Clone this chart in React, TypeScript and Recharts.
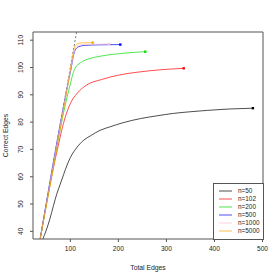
import React from 'react'
import { LineChart, Line, XAxis, YAxis, ReferenceLine, ReferenceArea } from 'recharts'

// total edges (x) vs correct edges (y), one pair of arrays per sample size
const n50X = [43, 50, 57, 65, 72, 79, 86, 93, 100, 114, 128, 142, 162, 183, 210, 246, 280, 315, 350, 385, 430, 480]
const n50Y = [37.3, 40.5, 44.3, 49.5, 53.8, 57.3, 60.8, 64.2, 67, 70.8, 73.4, 75, 77, 78.3, 79.8, 81.3, 82.3, 83.2, 83.8, 84.3, 84.8, 85.1]
const n102X = [37.5, 55, 65, 75, 82, 89.6, 100, 114, 133, 165, 200, 240, 290, 336]
const n102Y = [37.5, 54.5, 63.5, 71.5, 77, 81.9, 86.8, 90.5, 93.5, 95.6, 97.2, 98.3, 99.2, 99.7]
const n200X = [37.5, 60, 80, 93, 100, 105, 110, 121, 135, 150, 175, 210, 256]
const n200Y = [37.5, 59.5, 78.5, 89, 94, 97.5, 99.8, 101.7, 103, 103.7, 104.5, 105.2, 105.8]
const n500X = [37.5, 95, 102, 106, 110, 117, 130, 160, 204]
const n500Y = [37.5, 94, 100, 104, 106.3, 107.6, 108.1, 108.3, 108.4]
const n1000X = [37.5, 97, 104, 109, 115, 125, 150, 180]
const n1000Y = [37.5, 96, 102.5, 106.5, 108, 108.4, 108.5, 108.6]
const n5000X = [37.5, 98, 104, 108, 112, 121, 146.5]
const n5000Y = [37.5, 97, 103.5, 107, 108.4, 109, 109.1]

const labels = ['n=50', 'n=102', 'n=200', 'n=500', 'n=1000', 'n=5000']
const colors = ['#000000', '#ff0000', '#00dd00', '#0000ff', '#ffc0cb', '#ffa500']
const xTicks = [100, 200, 300, 400, 500]
const yTicks = [40, 50, 60, 70, 80, 90, 100, 110]

const X_MIN = 22.3
const X_MAX = 501
const Y_MIN = 37.2
const Y_MAX = 113

const zip = (xs: number[], ys: number[]) => xs.map((x, i) => ({ x, y: ys[i] }))
const series = [
  zip(n50X, n50Y),
  zip(n102X, n102Y),
  zip(n200X, n200Y),
  zip(n500X, n500Y),
  zip(n1000X, n1000Y),
  zip(n5000X, n5000Y),
]

const FONT = '"Liberation Sans", Arial, sans-serif'

const YTick = (props: any) => {
  const { x, y, payload } = props
  return (
    <text x={x - 5} y={y} transform={`rotate(-90, ${x - 5}, ${y})`} textAnchor="middle"
      fontSize={6.6} fill="#222" fontFamily={FONT}>
      {payload.value}
    </text>
  )
}

const XTick = (props: any) => {
  const { x, y, payload } = props
  return (
    <text x={x} y={y + 6.5} textAnchor="middle" fontSize={6.6} fill="#222" fontFamily={FONT}>
      {payload.value}
    </text>
  )
}

const LegendBox = () => (
  <div style={{ position: 'absolute', left: 213, top: 183, border: '1px solid #555', width: 51, height: 57, boxSizing: 'border-box', background: '#fff', paddingTop: 3 }}>
    {labels.map((l, i) => (
      <div key={l} style={{ height: 8, display: 'flex', alignItems: 'center' }}>
        <svg width={24} height={8}>
          <line x1={5} x2={18} y1={4} y2={4} stroke={colors[i]} strokeWidth={0.7} />
        </svg>
        <span style={{ fontSize: 6.4, fontFamily: FONT, color: '#222', lineHeight: '8px' }}>{l}</span>
      </div>
    ))}
  </div>
)

const endDot = (len: number, color: string) => (props: any) => {
  const { cx, cy, index } = props
  if (index !== len - 1) return <g key={index} />
  return <rect key={index} x={cx - 1.2} y={cy - 1.2} width={2.4} height={2.4} fill={color} />
}

export default function App() {
  return (
    <div style={{ position: 'absolute', left: 0, top: 0, width: 280, height: 280, background: '#fff' }}>
      <LineChart width={280} height={280} margin={{ top: 32, right: 17, bottom: 0, left: 0 }}>
        <XAxis type="number" dataKey="x" domain={[X_MIN, X_MAX]} ticks={xTicks} allowDataOverflow interval={0}
          height={41} axisLine={false} tickSize={3} tickLine={{ stroke: '#555' }} tick={<XTick />}
          label={(p: any) => {
            const vb = p.viewBox
            return <text x={vb.x + vb.width / 2} y={269.5} textAnchor="middle" fontSize={6.8} fill="#222" fontFamily={FONT}>Total Edges</text>
          }} />
        <YAxis type="number" dataKey="y" domain={[Y_MIN, Y_MAX]} ticks={yTicks} allowDataOverflow interval={0}
          width={33} axisLine={false} tickSize={3} tickLine={{ stroke: '#555' }} tick={<YTick />}
          label={(p: any) => {
            const vb = p.viewBox
            const cy = vb.y + vb.height / 2
            return <text x={8} y={cy} transform={`rotate(-90, 8, ${cy})`} textAnchor="middle" fontSize={6.8} fill="#222" fontFamily={FONT}>Correct Edges</text>
          }} />
        <ReferenceArea x1={X_MIN} x2={X_MAX} y1={Y_MIN} y2={Y_MAX} fill="none" stroke="#555" strokeWidth={1} />
        <ReferenceLine segment={[{ x: Y_MIN, y: Y_MIN }, { x: Y_MAX, y: Y_MAX }]} stroke="#555" strokeDasharray="2 2" strokeWidth={0.8} />
        {series.map((d, i) => (
          <Line key={labels[i]} data={d} dataKey="y" type="monotone" stroke={colors[i]} strokeWidth={0.7}
            dot={endDot(d.length, colors[i])} activeDot={false} isAnimationActive={false} name={labels[i]} />
        ))}
      </LineChart>
      <LegendBox />
    </div>
  )
}
